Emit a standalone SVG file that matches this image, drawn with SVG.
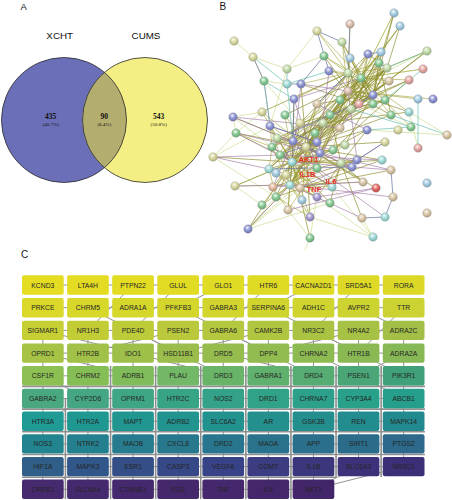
<svg xmlns="http://www.w3.org/2000/svg" width="452" height="500" viewBox="0 0 452 500">
<style>
.lbl{font-family:"Liberation Sans",Arial,sans-serif;fill:#111}
.vn{font-family:"Liberation Serif","Times New Roman",serif;fill:#111;text-anchor:middle}
.hub{font-family:"Liberation Sans",Arial,sans-serif;font-weight:bold;font-size:7.5px;fill:#e8302a;text-anchor:middle}
.bt{font-family:"Liberation Sans",Arial,sans-serif;font-size:6.8px;fill:#262626;text-anchor:middle}
.e1{fill:none;stroke:#8c8c2c;stroke-width:0.8;stroke-opacity:0.85}
.e2{fill:none;stroke:#a8a844;stroke-width:0.75;stroke-opacity:0.85}
.e3{fill:none;stroke:#9a70a0;stroke-width:0.75;stroke-opacity:0.8}
.e4{fill:none;stroke:#c8dc86;stroke-width:0.7;stroke-opacity:0.9}
.e5{fill:none;stroke:#50b4a2;stroke-width:0.7;stroke-opacity:0.85}
.e6{fill:none;stroke:#66729f;stroke-width:0.85;stroke-opacity:0.85}
.ge{fill:none;stroke:#939393;stroke-width:1}
.gv{fill:none;stroke:#8f8f8f;stroke-width:1.6}
.n{stroke:#8a8a8a;stroke-width:0.3}
</style>
<defs>
<radialGradient id="glb" cx="0.42" cy="0.35" r="0.7"><stop offset="0" stop-color="#f4f8fa"/><stop offset="0.45" stop-color="#a6cde3"/><stop offset="1" stop-color="#7a9fb5"/></radialGradient>
<radialGradient id="gbl" cx="0.42" cy="0.35" r="0.7"><stop offset="0" stop-color="#f4f4fa"/><stop offset="0.45" stop-color="#8f96d4"/><stop offset="1" stop-color="#6a70a8"/></radialGradient>
<radialGradient id="gpg" cx="0.42" cy="0.35" r="0.7"><stop offset="0" stop-color="#f6faf2"/><stop offset="0.45" stop-color="#c3dba9"/><stop offset="1" stop-color="#93ad80"/></radialGradient>
<radialGradient id="ggr" cx="0.42" cy="0.35" r="0.7"><stop offset="0" stop-color="#f2faf4"/><stop offset="0.45" stop-color="#8acb96"/><stop offset="1" stop-color="#619e6d"/></radialGradient>
<radialGradient id="gye" cx="0.42" cy="0.35" r="0.7"><stop offset="0" stop-color="#fafaf2"/><stop offset="0.45" stop-color="#d9d9a1"/><stop offset="1" stop-color="#a8a876"/></radialGradient>
<radialGradient id="gtn" cx="0.42" cy="0.35" r="0.7"><stop offset="0" stop-color="#faf6f2"/><stop offset="0.45" stop-color="#dac8a9"/><stop offset="1" stop-color="#aa987b"/></radialGradient>
<radialGradient id="gpk" cx="0.42" cy="0.35" r="0.7"><stop offset="0" stop-color="#faf2f2"/><stop offset="0.45" stop-color="#e6a9a6"/><stop offset="1" stop-color="#b57f7c"/></radialGradient>
<radialGradient id="gpt" cx="0.42" cy="0.35" r="0.7"><stop offset="0" stop-color="#faf4f2"/><stop offset="0.45" stop-color="#dcbfb0"/><stop offset="1" stop-color="#ab9284"/></radialGradient>
<radialGradient id="gcy" cx="0.42" cy="0.35" r="0.7"><stop offset="0" stop-color="#f2fafa"/><stop offset="0.45" stop-color="#a3dbd8"/><stop offset="1" stop-color="#74aba8"/></radialGradient>
<radialGradient id="gpu" cx="0.42" cy="0.35" r="0.7"><stop offset="0" stop-color="#f4f2fa"/><stop offset="0.45" stop-color="#a89ad3"/><stop offset="1" stop-color="#7d70a6"/></radialGradient>
<radialGradient id="gpc" cx="0.42" cy="0.35" r="0.7"><stop offset="0" stop-color="#faf4f0"/><stop offset="0.45" stop-color="#e3ba9b"/><stop offset="1" stop-color="#b08c70"/></radialGradient>
<radialGradient id="grd" cx="0.42" cy="0.35" r="0.7"><stop offset="0" stop-color="#fae8e8"/><stop offset="0.45" stop-color="#e46a68"/><stop offset="1" stop-color="#b04644"/></radialGradient>
<clipPath id="clipL"><circle cx="64" cy="120" r="62.5"/></clipPath>
</defs>
<rect width="452" height="500" fill="#fff"/>

<!-- Panel labels -->
<text class="lbl" x="20.5" y="9.5" font-size="9.5">A</text>
<text class="lbl" x="219.5" y="10" font-size="10">B</text>
<text class="lbl" x="21" y="258" font-size="10">C</text>

<!-- Panel A: Venn -->
<g id="venn">
<g id="set_XCHT"><circle cx="64" cy="120" r="62.5" fill="#6a6fb7"/></g>
<g id="set_CUMS"><circle cx="145" cy="120" r="62.5" fill="#f4ef84"/></g>
<g id="overlap"><circle cx="145" cy="120" r="62.5" fill="#b4ad70" clip-path="url(#clipL)"/></g>
<circle cx="64" cy="120" r="62.5" fill="none" stroke="#2a2a2a" stroke-width="0.8"/>
<circle cx="145" cy="120" r="62.5" fill="none" stroke="#2a2a2a" stroke-width="0.8"/>
<text class="lbl" x="59.7" y="39.3" font-size="9.8" text-anchor="middle">XCHT</text>
<text class="lbl" x="146" y="39.3" font-size="9.8" text-anchor="middle">CUMS</text>
<text class="vn" x="50.7" y="119.3" font-size="7.5" font-weight="bold">435</text>
<text class="vn" x="50.7" y="125.8" font-size="5">(40.7%)</text>
<text class="vn" x="104.3" y="119.3" font-size="7.5" font-weight="bold">90</text>
<text class="vn" x="104.3" y="125.8" font-size="5">(8.4%)</text>
<text class="vn" x="158.7" y="119.3" font-size="7.5" font-weight="bold">543</text>
<text class="vn" x="158.7" y="125.8" font-size="5">(50.8%)</text>
</g>

<!-- Panel B: network connectors -->
<g id="network-edges">
<path class="e4" d="M213 157L270 126M235 186L292 162M248 229L317 168M248 229L300 188M373 237L317 197M373 237L332 187M234 41L253 57M253 57L287 69M253 57L264 81M287 69L324 56M287 69L317 31M264 81L287 84M287 69L270 126M233 117L272 147M330 203L248 229M427 51L348 91M423 69L361 78M411 127L359 104M447 135L409 112M418 148L409 112M447 135L367 130M394 13L361 78M400 26L348 91M213 157L276 197M235 186L262 205M310 238L288 210M310 238L317 197M310 238L305 250M373 237L362 218M373 237L310 217M264 81L300 123M233 117L262 112M236 133L262 112M248 229L276 197M213 157L236 133M233 117L236 133"/>
<path class="e1" d="M292 162L270 126M292 162L300 123M292 162L293 141M292 162L315 133M292 162L272 147M292 162L280 155M292 162L269 169M292 162L286 175M292 162L273 187M292 162L290 185M292 162L300 188M292 162L276 197M292 162L317 197M292 162L288 210M292 162L294 99M292 162L317 104M292 162L330 115M292 162L333 150M292 162L341 163M292 162L332 187M292 162L357 160M292 162L348 91M292 162L348 73M292 162L361 78M292 162L248 229M292 162L235 186M292 162L213 157M292 162L330 203M292 162L310 238
M306 147L233 117M306 147L236 133M306 147L277 138M306 147L323 123M306 147L317 142M306 147L320 153M306 147L317 168M306 147L276 173M306 147L301 84M306 147L317 104M306 147L359 104M306 147L361 78M306 147L387 68M306 147L367 130M306 147L385 142M306 147L382 160M306 147L363 182M306 147L376 188M306 147L310 217M306 147L340 128M306 147L373 95M306 147L373 104"/>
<path class="e2" d="M361 78L317 31M361 78L342 42M361 78L324 56M361 78L350 58M361 78L368 54M361 78L381 52M361 78L379 63M361 78L329 71M361 78L389 81M361 78L409 80M361 78L373 95M361 78L385 100M361 78L373 104M361 78L351 109M361 78L391 115M361 78L409 112M361 78L423 69M361 78L427 51M361 78L400 26M361 78L394 13M361 78L323 123M361 78L320 153M361 78L411 127
M348 91L350 24M348 91L342 42M348 91L368 54M348 91L381 52M348 91L387 68M348 91L389 81M348 91L373 95M348 91L433 99M348 91L418 99M348 91L300 123M348 91L315 133M348 91L333 150M348 91L340 100M348 91L350 58
M348 73L317 31M348 73L324 56M348 73L379 63M348 73L387 68M348 73L329 71M348 73L301 84M348 73L294 99M348 73L317 104M348 73L359 104M348 73L293 141
M290 185L269 169M290 185L276 173M290 185L317 168M290 185L235 186M290 185L276 197M290 185L317 197M290 185L288 210M290 185L310 217M290 185L332 187M290 185L352 167M290 185L363 182M290 185L302 200M290 185L262 205M290 185L248 229"/>
<path class="e1" d="M341 163L357 160M341 163L352 167M341 163L363 182M341 163L332 187M341 163L330 203M341 163L317 168M341 163L320 153M341 163L330 115M341 163L367 130M341 163L382 160M341 163L362 218M341 163L317 197
M280 155L359 104M272 147L373 104M277 138L373 95M269 169L330 115M286 175L367 130M300 188L391 170M276 197L382 160M273 187L357 160M285 115L361 78M262 112L348 73M345 145L387 68M293 141L389 81M300 123L385 100M315 133L385 100M323 123L409 112M317 142L391 115M333 150L409 80M320 153L379 63M340 128L381 52M300 123L368 54M394 13L379 63M400 26L381 52M400 26L387 68M394 13L373 95"/>
<path class="e2" d="M270 126L293 141M270 126L272 147M270 126L280 155M236 133L272 147M236 133L280 155M277 138L292 162M277 138L317 168M293 141L320 153M293 141L317 168M272 147L269 169M272 147L290 185M280 155L290 185M280 155L317 168M269 169L276 197M276 173L317 197M286 175L300 188M286 175L317 168M273 187L288 210M300 188L317 197M276 197L310 217M317 142L317 168M317 142L290 185M315 133L317 168M315 133L290 185M300 123L272 147M300 123L269 169M285 115L292 162M285 115L306 147M262 112L306 147M262 112L292 162M323 123L292 162M323 123L290 185M320 153L290 185M320 153L276 197M333 150L290 185M333 150L280 155M332 187L280 155M332 187L269 169M352 167L280 155M317 168L288 210M317 197L280 155M310 217L292 162M302 200L306 147M262 205L306 147M340 128L290 185M345 145L292 162M345 145L290 185M330 115L290 185M330 115L272 147"/>
<path class="e1" d="M368 54L387 68M368 54L359 104M381 52L373 95M379 63L359 104M379 63L373 104M387 68L373 95M387 68L351 109M329 71L359 104M348 73L373 95M348 73L373 104M389 81L359 104M389 81L351 109M409 80L359 104M409 80L373 95M301 84L359 104M348 91L391 115M348 91L409 112M385 100L351 109M317 104L373 95M324 56L359 104M350 58L373 104M342 42L373 95M342 42L359 104M381 52L351 109M379 63L391 115M340 100L387 68M340 100L381 52M330 115L361 78M330 115L387 68M351 109L427 51M359 104L427 51
M292 162L387 68M292 162L373 95M292 162L359 104M306 147L368 54M306 147L379 63M280 155L361 78M272 147L348 91M290 185L348 91M290 185L361 78M317 168L348 91M320 153L348 91M293 141L359 104M269 169L361 78M286 175L348 91M280 155L387 68"/>
<path class="e3" d="M292 162L391 170M306 147L352 167M280 155L382 160M290 185L393 197M273 187L363 182M270 126L264 81M233 117L306 147M236 133L292 162M213 157L280 155M235 186L290 185M248 229L290 185M301 84L292 162M329 71L317 168M357 160L300 188M376 188L288 210M332 187L272 147M317 104L367 130M293 141L332 187M317 168L385 217M290 185L362 218M294 99L317 168M320 153L391 170M317 197L376 188M300 123L273 187M233 117L340 128M236 133L320 153M213 157L269 169M359 104L320 153M348 91L357 160M385 142L357 160M270 126L317 142M277 138L333 150M301 84L348 91M294 99L361 78"/>
<path class="e5" d="M287 69L287 84M287 84L329 71M447 135L391 115M418 148L418 99M264 81L294 99M287 84L293 141M423 69L385 100M411 127L351 109M367 130L411 127M253 57L287 84M264 81L270 126M427 51L387 68"/>
<path class="e6" d="M350 24L348 73M317 31L329 71M324 56L301 84M373 95L359 104M270 126L317 142M317 142L280 155M294 99L293 141M352 167L269 169M379 63L387 68M368 54L381 52M348 73L317 104M393 197L385 217M362 218L385 217M385 142L357 160M393 197L391 170M301 84L287 84M330 115L359 104M342 42L317 31M291 133L330 115M253 57L264 81M272 147L292 162M306 147L320 153"/>
</g>

<!-- Panel B: network nodes -->
<g id="network-nodes">
<g id="nA1"><circle class="n" cx="394" cy="13" r="4.3" fill="url(#glb)"/></g>
<g id="nA2"><circle class="n" cx="400" cy="26" r="4.3" fill="url(#glb)"/></g>
<g id="nA3"><circle class="n" cx="350" cy="24" r="4.3" fill="url(#gpt)"/></g>
<g id="nA4"><circle class="n" cx="317" cy="31" r="4.3" fill="url(#gye)"/></g>
<g id="nA5"><circle class="n" cx="234" cy="41" r="4.3" fill="url(#gye)"/></g>
<g id="nA6"><circle class="n" cx="342" cy="42" r="4.3" fill="url(#gpg)"/></g>
<g id="nA7"><circle class="n" cx="253" cy="57" r="4.3" fill="url(#gye)"/></g>
<g id="nA8"><circle class="n" cx="324" cy="56" r="4.3" fill="url(#ggr)"/></g>
<g id="nA9"><circle class="n" cx="350" cy="58" r="4.3" fill="url(#glb)"/></g>
<g id="nA10"><circle class="n" cx="368" cy="54" r="4.3" fill="url(#gbl)"/></g>
<g id="nA11"><circle class="n" cx="381" cy="52" r="4.3" fill="url(#glb)"/></g>
<g id="nA12"><circle class="n" cx="427" cy="51" r="4.3" fill="url(#gpg)"/></g>
<g id="nA13"><circle class="n" cx="379" cy="63" r="4.3" fill="url(#ggr)"/></g>
<g id="nA14"><circle class="n" cx="387" cy="68" r="4.3" fill="url(#gpg)"/></g>
<g id="nA15"><circle class="n" cx="423" cy="69" r="4.3" fill="url(#gpk)"/></g>
<g id="nA16"><circle class="n" cx="287" cy="69" r="4.3" fill="url(#gpg)"/></g>
<g id="nA17"><circle class="n" cx="329" cy="71" r="4.3" fill="url(#gbl)"/></g>
<g id="nA18"><circle class="n" cx="348" cy="73" r="4.3" fill="url(#gpg)"/></g>
<g id="nA19"><circle class="n" cx="361" cy="78" r="4.3" fill="url(#ggr)"/></g>
<g id="nA20"><circle class="n" cx="389" cy="81" r="4.3" fill="url(#gtn)"/></g>
<g id="nA21"><circle class="n" cx="409" cy="80" r="4.3" fill="url(#gpk)"/></g>
<g id="nA22"><circle class="n" cx="264" cy="81" r="4.3" fill="url(#ggr)"/></g>
<g id="nA23"><circle class="n" cx="287" cy="84" r="4.3" fill="url(#gcy)"/></g>
<g id="nA24"><circle class="n" cx="301" cy="84" r="4.3" fill="url(#gbl)"/></g>
<g id="nA25"><circle class="n" cx="348" cy="91" r="4.3" fill="url(#gpt)"/></g>
<g id="nA26"><circle class="n" cx="373" cy="95" r="4.3" fill="url(#gbl)"/></g>
<g id="nA27"><circle class="n" cx="385" cy="100" r="4.3" fill="url(#ggr)"/></g>
<g id="nA28"><circle class="n" cx="294" cy="99" r="4.3" fill="url(#gbl)"/></g>
<g id="nA29"><circle class="n" cx="317" cy="104" r="4.3" fill="url(#gtn)"/></g>
<g id="nA30"><circle class="n" cx="359" cy="104" r="4.3" fill="url(#gpk)"/></g>
<g id="nA31"><circle class="n" cx="373" cy="104" r="4.3" fill="url(#ggr)"/></g>
<g id="nA32"><circle class="n" cx="418" cy="99" r="4.3" fill="url(#glb)"/></g>
<g id="nA33"><circle class="n" cx="433" cy="99" r="4.3" fill="url(#gbl)"/></g>
<g id="nA34"><circle class="n" cx="351" cy="109" r="4.3" fill="url(#gpg)"/></g>
<g id="nA35"><circle class="n" cx="391" cy="115" r="4.3" fill="url(#ggr)"/></g>
<g id="nA36"><circle class="n" cx="409" cy="112" r="4.3" fill="url(#gcy)"/></g>
<g id="nA37"><circle class="n" cx="330" cy="115" r="4.3" fill="url(#ggr)"/></g>
<g id="nD1"><circle class="n" cx="262" cy="112" r="4.3" fill="url(#gye)"/></g>
<g id="nD2"><circle class="n" cx="285" cy="115" r="4.3" fill="url(#ggr)"/></g>
<g id="nD7"><circle class="n" cx="340" cy="100" r="4.3" fill="url(#ggr)"/></g>
<g id="nB1"><circle class="n" cx="233" cy="117" r="4.3" fill="url(#gbl)"/></g>
<g id="nB2"><circle class="n" cx="270" cy="126" r="4.3" fill="url(#gbl)"/></g>
<g id="nB3"><circle class="n" cx="236" cy="133" r="4.3" fill="url(#ggr)"/></g>
<g id="nB4"><circle class="n" cx="300" cy="123" r="4.3" fill="url(#gye)"/></g>
<g id="nB5"><circle class="n" cx="277" cy="138" r="4.3" fill="url(#gpg)"/></g>
<g id="nB6"><circle class="n" cx="293" cy="141" r="4.3" fill="url(#gbl)"/></g>
<g id="nB7"><circle class="n" cx="315" cy="133" r="4.3" fill="url(#ggr)"/></g>
<g id="nB8"><circle class="n" cx="323" cy="123" r="4.3" fill="url(#gpg)"/></g>
<g id="nD3"><circle class="n" cx="340" cy="128" r="4.3" fill="url(#gtn)"/></g>
<g id="nB9"><circle class="n" cx="272" cy="147" r="4.3" fill="url(#ggr)"/></g>
<g id="nB10"><circle class="n" cx="306" cy="147" r="4.3" fill="url(#gye)"/></g>
<g id="nB11"><circle class="n" cx="317" cy="142" r="4.3" fill="url(#gbl)"/></g>
<g id="nD4"><circle class="n" cx="345" cy="145" r="4.3" fill="url(#gpg)"/></g>
<g id="nB12"><circle class="n" cx="280" cy="155" r="4.3" fill="url(#ggr)"/></g>
<g id="nB13"><circle class="n" cx="292" cy="162" r="4.3" fill="url(#gcy)"/></g>
<g id="nB14"><circle class="n" cx="320" cy="153" r="4.3" fill="url(#gbl)"/></g>
<g id="nB15"><circle class="n" cx="213" cy="157" r="4.3" fill="url(#gye)"/></g>
<g id="nB16"><circle class="n" cx="269" cy="169" r="4.3" fill="url(#gcy)"/></g>
<g id="nB17"><circle class="n" cx="276" cy="173" r="4.3" fill="url(#glb)"/></g>
<g id="nB18"><circle class="n" cx="286" cy="175" r="4.3" fill="url(#gye)"/></g>
<g id="nB19"><circle class="n" cx="317" cy="168" r="4.3" fill="url(#ggr)"/></g>
<g id="nB20"><circle class="n" cx="235" cy="186" r="4.3" fill="url(#gye)"/></g>
<g id="nB21"><circle class="n" cx="273" cy="187" r="4.3" fill="url(#gpc)"/></g>
<g id="nB22"><circle class="n" cx="290" cy="185" r="4.3" fill="url(#gcy)"/></g>
<g id="nB23"><circle class="n" cx="300" cy="188" r="4.3" fill="url(#gtn)"/></g>
<g id="nB24"><circle class="n" cx="276" cy="197" r="4.3" fill="url(#ggr)"/></g>
<g id="nD5"><circle class="n" cx="302" cy="200" r="4.3" fill="url(#glb)"/></g>
<g id="nD6"><circle class="n" cx="262" cy="205" r="4.3" fill="url(#ggr)"/></g>
<g id="nB25"><circle class="n" cx="317" cy="197" r="4.3" fill="url(#gpu)"/></g>
<g id="nB26"><circle class="n" cx="288" cy="210" r="4.3" fill="url(#gtn)"/></g>
<g id="nB27"><circle class="n" cx="310" cy="217" r="4.3" fill="url(#gpu)"/></g>
<g id="nB28"><circle class="n" cx="248" cy="229" r="4.3" fill="url(#gbl)"/></g>
<g id="nC1"><circle class="n" cx="367" cy="130" r="4.3" fill="url(#gbl)"/></g>
<g id="nC2"><circle class="n" cx="411" cy="127" r="4.3" fill="url(#ggr)"/></g>
<g id="nC3"><circle class="n" cx="447" cy="135" r="4.3" fill="url(#gtn)"/></g>
<g id="nD8"><circle class="n" cx="398" cy="130" r="4.3" fill="url(#gye)"/></g>
<g id="nC5"><circle class="n" cx="333" cy="150" r="4.3" fill="url(#ggr)"/></g>
<g id="nC6"><circle class="n" cx="385" cy="142" r="4.3" fill="url(#gye)"/></g>
<g id="nC7"><circle class="n" cx="418" cy="148" r="4.3" fill="url(#gpk)"/></g>
<g id="nC8"><circle class="n" cx="357" cy="160" r="4.3" fill="url(#gbl)"/></g>
<g id="nC9"><circle class="n" cx="382" cy="160" r="4.3" fill="url(#gcy)"/></g>
<g id="nC10"><circle class="n" cx="352" cy="167" r="4.3" fill="url(#gbl)"/></g>
<g id="nC11"><circle class="n" cx="341" cy="163" r="4.3" fill="url(#gpg)"/></g>
<g id="nC12"><circle class="n" cx="391" cy="170" r="4.3" fill="url(#gtn)"/></g>
<g id="nC13"><circle class="n" cx="363" cy="182" r="4.3" fill="url(#gtn)"/></g>
<g id="nC14"><circle class="n" cx="376" cy="188" r="4.3" fill="url(#grd)"/></g>
<g id="nC15"><circle class="n" cx="332" cy="187" r="4.3" fill="url(#gcy)"/></g>
<g id="nC16"><circle class="n" cx="427" cy="183" r="4.3" fill="url(#glb)"/></g>
<g id="nC17"><circle class="n" cx="393" cy="197" r="4.3" fill="url(#gtn)"/></g>
<g id="nC18"><circle class="n" cx="330" cy="203" r="4.3" fill="url(#ggr)"/></g>
<g id="nC19"><circle class="n" cx="427" cy="213" r="4.3" fill="url(#gtn)"/></g>
<g id="nC20"><circle class="n" cx="362" cy="218" r="4.3" fill="url(#gtn)"/></g>
<g id="nC21"><circle class="n" cx="385" cy="217" r="4.3" fill="url(#gcy)"/></g>
<g id="nC22"><circle class="n" cx="373" cy="237" r="4.3" fill="url(#gcy)"/></g>
<g id="nC23"><circle class="n" cx="310" cy="238" r="4.3" fill="url(#ggr)"/></g>
<text class="hub" x="308.3" y="162.3">AKT1</text>
<text class="hub" x="307.3" y="176.7">IL1B</text>
<text class="hub" x="331" y="183.7">IL6</text>
<text class="hub" x="314" y="191.7">TNF</text>
</g>

<!-- Panel C: connectors -->
<g id="grid-edges">
<path class="ge" d="M42.85 285H403.65M42.85 307.7H403.65M42.85 330.4H403.65M42.85 353.1H403.65M42.85 375.8H403.65M42.85 398.5H403.65M42.85 421.2H403.65M42.85 443.9H403.65M42.85 466.6H403.65M42.85 489.3H313.45
M42.85 330.4V489.3M87.95 330.4V489.3M133.05 330.4V489.3M178.15 330.4V489.3M223.25 330.4V489.3M268.35 330.4V489.3M313.45 330.4V489.3M358.55 330.4V466.6M403.65 330.4V466.6
M87.95 307.7L178.15 353.1M133.05 330.4L223.25 375.8M178.15 307.7L268.35 353.1M223.25 330.4L313.45 375.8M268.35 307.7L358.55 353.1M313.45 330.4L403.65 375.8M133.05 285L87.95 330.4M178.15 285L133.05 330.4M268.35 285L223.25 330.4M358.55 285L313.45 330.4M403.65 307.7L358.55 353.1M42.85 330.4L133.05 353.1M87.95 353.1L178.15 330.4M178.15 353.1L268.35 330.4M268.35 353.1L358.55 330.4M358.55 307.7L403.65 330.4M313.45 285L268.35 307.7M223.25 285L178.15 307.7M42.85 353.1L133.05 375.8M133.05 353.1L223.25 375.8M223.25 353.1L313.45 375.8M313.45 353.1L403.65 398.5M42.85 375.8L87.95 398.5M403.65 353.1L358.55 375.8
M313.45 489.3L358.55 466.6M313.45 489.3L403.65 466.6M87.95 466.6L42.85 489.3M42.85 421.2L87.95 398.5"/>
<path class="gv" d="M65.45 398V499M110.55 366V499M155.65 366V499M200.75 366V499M245.85 366V499M290.95 366V499M336.05 366V477M381.15 366V477
M22 386.4H425M22 409.1H425M22 431.8H425M22 454.5H425M22 477.2H336"/>
</g>

<!-- Panel C: nodes -->
<g id="grid-nodes">
<g id="KCND3"><rect x="22" y="275.3" width="41.7" height="19.4" rx="2" fill="#e4dd22"/><text class="bt" x="42.85" y="287.5">KCND3</text></g>
<g id="LTA4H"><rect x="67.1" y="275.3" width="41.7" height="19.4" rx="2" fill="#e3dc22"/><text class="bt" x="87.95" y="287.5">LTA4H</text></g>
<g id="PTPN22"><rect x="112.2" y="275.3" width="41.7" height="19.4" rx="2" fill="#e2dc23"/><text class="bt" x="133.05" y="287.5">PTPN22</text></g>
<g id="GLUL"><rect x="157.3" y="275.3" width="41.7" height="19.4" rx="2" fill="#e1db23"/><text class="bt" x="178.15" y="287.5">GLUL</text></g>
<g id="GLO1"><rect x="202.4" y="275.3" width="41.7" height="19.4" rx="2" fill="#e0db24"/><text class="bt" x="223.25" y="287.5">GLO1</text></g>
<g id="HTR6"><rect x="247.5" y="275.3" width="41.7" height="19.4" rx="2" fill="#dfda24"/><text class="bt" x="268.35" y="287.5">HTR6</text></g>
<g id="CACNA2D1"><rect x="292.6" y="275.3" width="41.7" height="19.4" rx="2" fill="#deda25"/><text class="bt" x="313.45" y="287.5">CACNA2D1</text></g>
<g id="SRD5A1"><rect x="337.7" y="275.3" width="41.7" height="19.4" rx="2" fill="#ddd925"/><text class="bt" x="358.55" y="287.5">SRD5A1</text></g>
<g id="RORA"><rect x="382.8" y="275.3" width="41.7" height="19.4" rx="2" fill="#dcd926"/><text class="bt" x="403.65" y="287.5">RORA</text></g>

<g id="PRKCE"><rect x="22" y="298" width="41.7" height="19.4" rx="2" fill="#dad828"/><text class="bt" x="42.85" y="310.2">PRKCE</text></g>
<g id="CHRM5"><rect x="67.1" y="298" width="41.7" height="19.4" rx="2" fill="#d8d82a"/><text class="bt" x="87.95" y="310.2">CHRM5</text></g>
<g id="ADRA1A"><rect x="112.2" y="298" width="41.7" height="19.4" rx="2" fill="#d6d72b"/><text class="bt" x="133.05" y="310.2">ADRA1A</text></g>
<g id="PFKFB3"><rect x="157.3" y="298" width="41.7" height="19.4" rx="2" fill="#d4d62c"/><text class="bt" x="178.15" y="310.2">PFKFB3</text></g>
<g id="GABRA3"><rect x="202.4" y="298" width="41.7" height="19.4" rx="2" fill="#d2d52d"/><text class="bt" x="223.25" y="310.2">GABRA3</text></g>
<g id="SERPINA6"><rect x="247.5" y="298" width="41.7" height="19.4" rx="2" fill="#d0d52e"/><text class="bt" x="268.35" y="310.2">SERPINA6</text></g>
<g id="ADH1C"><rect x="292.6" y="298" width="41.7" height="19.4" rx="2" fill="#cfd42f"/><text class="bt" x="313.45" y="310.2">ADH1C</text></g>
<g id="AVPR2"><rect x="337.7" y="298" width="41.7" height="19.4" rx="2" fill="#cdd330"/><text class="bt" x="358.55" y="310.2">AVPR2</text></g>
<g id="TTR"><rect x="382.8" y="298" width="41.7" height="19.4" rx="2" fill="#cbd231"/><text class="bt" x="403.65" y="310.2">TTR</text></g>

<g id="SIGMAR1"><rect x="22" y="320.7" width="41.7" height="19.4" rx="2" fill="#c6cf34"/><text class="bt" x="42.85" y="332.9">SIGMAR1</text></g>
<g id="NR1H3"><rect x="67.1" y="320.7" width="41.7" height="19.4" rx="2" fill="#c2cd36"/><text class="bt" x="87.95" y="332.9">NR1H3</text></g>
<g id="PDE4D"><rect x="112.2" y="320.7" width="41.7" height="19.4" rx="2" fill="#bdcb39"/><text class="bt" x="133.05" y="332.9">PDE4D</text></g>
<g id="PSEN2"><rect x="157.3" y="320.7" width="41.7" height="19.4" rx="2" fill="#b9c93b"/><text class="bt" x="178.15" y="332.9">PSEN2</text></g>
<g id="GABRA6"><rect x="202.4" y="320.7" width="41.7" height="19.4" rx="2" fill="#b4c73e"/><text class="bt" x="223.25" y="332.9">GABRA6</text></g>
<g id="CAMK2B"><rect x="247.5" y="320.7" width="41.7" height="19.4" rx="2" fill="#b0c540"/><text class="bt" x="268.35" y="332.9">CAMK2B</text></g>
<g id="NR3C2"><rect x="292.6" y="320.7" width="41.7" height="19.4" rx="2" fill="#abc343"/><text class="bt" x="313.45" y="332.9">NR3C2</text></g>
<g id="NR4A2"><rect x="337.7" y="320.7" width="41.7" height="19.4" rx="2" fill="#a7c145"/><text class="bt" x="358.55" y="332.9">NR4A2</text></g>
<g id="ADRA2C"><rect x="382.8" y="320.7" width="41.7" height="19.4" rx="2" fill="#a3bf48"/><text class="bt" x="403.65" y="332.9">ADRA2C</text></g>

<g id="OPRD1"><rect x="22" y="343.4" width="41.7" height="19.4" rx="2" fill="#a6c346"/><text class="bt" x="42.85" y="355.6">OPRD1</text></g>
<g id="HTR2B"><rect x="67.1" y="343.4" width="41.7" height="19.4" rx="2" fill="#a2c148"/><text class="bt" x="87.95" y="355.6">HTR2B</text></g>
<g id="IDO1"><rect x="112.2" y="343.4" width="41.7" height="19.4" rx="2" fill="#9ebf4a"/><text class="bt" x="133.05" y="355.6">IDO1</text></g>
<g id="HSD11B1"><rect x="157.3" y="343.4" width="41.7" height="19.4" rx="2" fill="#9abd4c"/><text class="bt" x="178.15" y="355.6">HSD11B1</text></g>
<g id="DRD5"><rect x="202.4" y="343.4" width="41.7" height="19.4" rx="2" fill="#96bc4e"/><text class="bt" x="223.25" y="355.6">DRD5</text></g>
<g id="DPP4"><rect x="247.5" y="343.4" width="41.7" height="19.4" rx="2" fill="#92bb50"/><text class="bt" x="268.35" y="355.6">DPP4</text></g>
<g id="CHRNA2"><rect x="292.6" y="343.4" width="41.7" height="19.4" rx="2" fill="#8eba52"/><text class="bt" x="313.45" y="355.6">CHRNA2</text></g>
<g id="HTR1B"><rect x="337.7" y="343.4" width="41.7" height="19.4" rx="2" fill="#8ab954"/><text class="bt" x="358.55" y="355.6">HTR1B</text></g>
<g id="ADRA2A"><rect x="382.8" y="343.4" width="41.7" height="19.4" rx="2" fill="#86b856"/><text class="bt" x="403.65" y="355.6">ADRA2A</text></g>

<g id="CSF1R"><rect x="22" y="366.1" width="41.7" height="19.4" rx="2" fill="#8cc052"/><text class="bt" x="42.85" y="378.3">CSF1R</text></g>
<g id="CHRM2"><rect x="67.1" y="366.1" width="41.7" height="19.4" rx="2" fill="#86be56"/><text class="bt" x="87.95" y="378.3">CHRM2</text></g>
<g id="ADRB1"><rect x="112.2" y="366.1" width="41.7" height="19.4" rx="2" fill="#80bc5a"/><text class="bt" x="133.05" y="378.3">ADRB1</text></g>
<g id="PLAU"><rect x="157.3" y="366.1" width="41.7" height="19.4" rx="2" fill="#72b866"/><text class="bt" x="178.15" y="378.3">PLAU</text></g>
<g id="DRD3"><rect x="202.4" y="366.1" width="41.7" height="19.4" rx="2" fill="#6ab46a"/><text class="bt" x="223.25" y="378.3">DRD3</text></g>
<g id="GABRA1"><rect x="247.5" y="366.1" width="41.7" height="19.4" rx="2" fill="#60b06e"/><text class="bt" x="268.35" y="378.3">GABRA1</text></g>
<g id="DRD4"><rect x="292.6" y="366.1" width="41.7" height="19.4" rx="2" fill="#56ac72"/><text class="bt" x="313.45" y="378.3">DRD4</text></g>
<g id="PSEN1"><rect x="337.7" y="366.1" width="41.7" height="19.4" rx="2" fill="#4aa676"/><text class="bt" x="358.55" y="378.3">PSEN1</text></g>
<g id="PIK3R1"><rect x="382.8" y="366.1" width="41.7" height="19.4" rx="2" fill="#40a07a"/><text class="bt" x="403.65" y="378.3">PIK3R1</text></g>

<g id="GABRA2"><rect x="22" y="388.8" width="41.7" height="19.4" rx="2" fill="#4aa880"/><text class="bt" x="42.85" y="401">GABRA2</text></g>
<g id="CYP2D6"><rect x="67.1" y="388.8" width="41.7" height="19.4" rx="2" fill="#44a682"/><text class="bt" x="87.95" y="401">CYP2D6</text></g>
<g id="OPRM1"><rect x="112.2" y="388.8" width="41.7" height="19.4" rx="2" fill="#3ea684"/><text class="bt" x="133.05" y="401">OPRM1</text></g>
<g id="HTR2C"><rect x="157.3" y="388.8" width="41.7" height="19.4" rx="2" fill="#38a486"/><text class="bt" x="178.15" y="401">HTR2C</text></g>
<g id="NOS2"><rect x="202.4" y="388.8" width="41.7" height="19.4" rx="2" fill="#34a288"/><text class="bt" x="223.25" y="401">NOS2</text></g>
<g id="DRD1"><rect x="247.5" y="388.8" width="41.7" height="19.4" rx="2" fill="#30a288"/><text class="bt" x="268.35" y="401">DRD1</text></g>
<g id="CHRNA7"><rect x="292.6" y="388.8" width="41.7" height="19.4" rx="2" fill="#2ca08a"/><text class="bt" x="313.45" y="401">CHRNA7</text></g>
<g id="CYP3A4"><rect x="337.7" y="388.8" width="41.7" height="19.4" rx="2" fill="#28a08a"/><text class="bt" x="358.55" y="401">CYP3A4</text></g>
<g id="ABCB1"><rect x="382.8" y="388.8" width="41.7" height="19.4" rx="2" fill="#269e8c"/><text class="bt" x="403.65" y="401">ABCB1</text></g>

<g id="HTR3A"><rect x="22" y="411.5" width="41.7" height="19.4" rx="2" fill="#1f9a94"/><text class="bt" x="42.85" y="423.7">HTR3A</text></g>
<g id="HTR2A"><rect x="67.1" y="411.5" width="41.7" height="19.4" rx="2" fill="#209892"/><text class="bt" x="87.95" y="423.7">HTR2A</text></g>
<g id="MAPT"><rect x="112.2" y="411.5" width="41.7" height="19.4" rx="2" fill="#219690"/><text class="bt" x="133.05" y="423.7">MAPT</text></g>
<g id="ADRB2"><rect x="157.3" y="411.5" width="41.7" height="19.4" rx="2" fill="#22948f"/><text class="bt" x="178.15" y="423.7">ADRB2</text></g>
<g id="SLC6A2"><rect x="202.4" y="411.5" width="41.7" height="19.4" rx="2" fill="#22928e"/><text class="bt" x="223.25" y="423.7">SLC6A2</text></g>
<g id="AR"><rect x="247.5" y="411.5" width="41.7" height="19.4" rx="2" fill="#23908e"/><text class="bt" x="268.35" y="423.7">AR</text></g>
<g id="GSK3B"><rect x="292.6" y="411.5" width="41.7" height="19.4" rx="2" fill="#238e8e"/><text class="bt" x="313.45" y="423.7">GSK3B</text></g>
<g id="REN"><rect x="337.7" y="411.5" width="41.7" height="19.4" rx="2" fill="#238c8e"/><text class="bt" x="358.55" y="423.7">REN</text></g>
<g id="MAPK14"><rect x="382.8" y="411.5" width="41.7" height="19.4" rx="2" fill="#228a8e"/><text class="bt" x="403.65" y="423.7">MAPK14</text></g>

<g id="NOS3"><rect x="22" y="434.2" width="41.7" height="19.4" rx="2" fill="#22848e"/><text class="bt" x="42.85" y="446.4">NOS3</text></g>
<g id="NTRK2"><rect x="67.1" y="434.2" width="41.7" height="19.4" rx="2" fill="#24808e"/><text class="bt" x="87.95" y="446.4">NTRK2</text></g>
<g id="MAOB"><rect x="112.2" y="434.2" width="41.7" height="19.4" rx="2" fill="#267c8e"/><text class="bt" x="133.05" y="446.4">MAOB</text></g>
<g id="CXCL8"><rect x="157.3" y="434.2" width="41.7" height="19.4" rx="2" fill="#27788d"/><text class="bt" x="178.15" y="446.4">CXCL8</text></g>
<g id="DRD2"><rect x="202.4" y="434.2" width="41.7" height="19.4" rx="2" fill="#28768d"/><text class="bt" x="223.25" y="446.4">DRD2</text></g>
<g id="MAOA"><rect x="247.5" y="434.2" width="41.7" height="19.4" rx="2" fill="#29728c"/><text class="bt" x="268.35" y="446.4">MAOA</text></g>
<g id="APP"><rect x="292.6" y="434.2" width="41.7" height="19.4" rx="2" fill="#2a6f8c"/><text class="bt" x="313.45" y="446.4">APP</text></g>
<g id="SIRT1"><rect x="337.7" y="434.2" width="41.7" height="19.4" rx="2" fill="#2b6c8b"/><text class="bt" x="358.55" y="446.4">SIRT1</text></g>
<g id="PTGS2"><rect x="382.8" y="434.2" width="41.7" height="19.4" rx="2" fill="#2c698a"/><text class="bt" x="403.65" y="446.4">PTGS2</text></g>

<g id="HIF1A"><rect x="22" y="456.9" width="41.7" height="19.4" rx="2" fill="#2f5e88"/><text class="bt" x="42.85" y="469.1">HIF1A</text></g>
<g id="MAPK3"><rect x="67.1" y="456.9" width="41.7" height="19.4" rx="2" fill="#31568a"/><text class="bt" x="87.95" y="469.1">MAPK3</text></g>
<g id="ESR1"><rect x="112.2" y="456.9" width="41.7" height="19.4" rx="2" fill="#344e88"/><text class="bt" x="133.05" y="469.1">ESR1</text></g>
<g id="CASP3"><rect x="157.3" y="456.9" width="41.7" height="19.4" rx="2" fill="#364888"/><text class="bt" x="178.15" y="469.1">CASP3</text></g>
<g id="VEGFA"><rect x="202.4" y="456.9" width="41.7" height="19.4" rx="2" fill="#384286"/><text class="bt" x="223.25" y="469.1">VEGFA</text></g>
<g id="COMT"><rect x="247.5" y="456.9" width="41.7" height="19.4" rx="2" fill="#3b3c82"/><text class="bt" x="268.35" y="469.1">COMT</text></g>
<g id="IL1B"><rect x="292.6" y="456.9" width="41.7" height="19.4" rx="2" fill="#3c367c"/><text class="bt" x="313.45" y="469.1">IL1B</text></g>
<g id="SLC6A3"><rect x="337.7" y="456.9" width="41.7" height="19.4" rx="2" fill="#3d327a"/><text class="bt" x="358.55" y="469.1">SLC6A3</text></g>
<g id="NR3C1"><rect x="382.8" y="456.9" width="41.7" height="19.4" rx="2" fill="#3d2e78"/><text class="bt" x="403.65" y="469.1">NR3C1</text></g>

<g id="CREB1"><rect x="22" y="479.6" width="41.7" height="19.4" rx="2" fill="#46296e"/><text class="bt" x="42.85" y="491.8">CREB1</text></g>
<g id="SLC6A4"><rect x="67.1" y="479.6" width="41.7" height="19.4" rx="2" fill="#45296e"/><text class="bt" x="87.95" y="491.8">SLC6A4</text></g>
<g id="CTNNB1"><rect x="112.2" y="479.6" width="41.7" height="19.4" rx="2" fill="#45286d"/><text class="bt" x="133.05" y="491.8">CTNNB1</text></g>
<g id="FOS"><rect x="157.3" y="479.6" width="41.7" height="19.4" rx="2" fill="#45286c"/><text class="bt" x="178.15" y="491.8">FOS</text></g>
<g id="TNF"><rect x="202.4" y="479.6" width="41.7" height="19.4" rx="2" fill="#44276c"/><text class="bt" x="223.25" y="491.8">TNF</text></g>
<g id="IL6"><rect x="247.5" y="479.6" width="41.7" height="19.4" rx="2" fill="#44266b"/><text class="bt" x="268.35" y="491.8">IL6</text></g>
<g id="AKT1"><rect x="292.6" y="479.6" width="41.7" height="19.4" rx="2" fill="#43256a"/><text class="bt" x="313.45" y="491.8">AKT1</text></g>
</g>
</svg>
